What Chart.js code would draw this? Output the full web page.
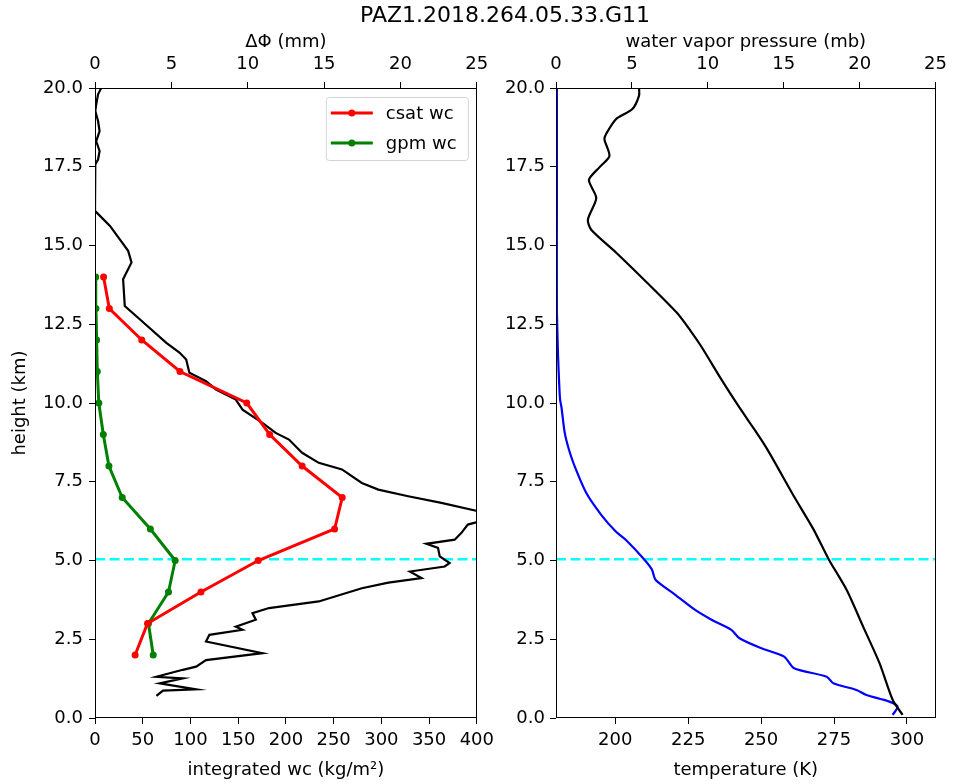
<!DOCTYPE html>
<html>
<head>
<meta charset="utf-8">
<script src="https://cdn.jsdelivr.net/npm/chart.js@4.4.0/dist/chart.umd.min.js"></script>
<style>
  html, body { margin: 0; padding: 0; background: #fff; }
  #wrap { position: relative; width: 954px; height: 784px; overflow: hidden; }
  #title { position: absolute; left: 505px; top: 2px; transform: translateX(-50%); white-space: nowrap;
           font: 22px "DejaVu Sans", sans-serif; color: #000; }
  canvas { position: absolute; top: 0; }
</style>
</head>
<body>
<div id="wrap">
  <canvas id="left" width="500" height="784" style="left:0"></canvas>
  <canvas id="right" width="454" height="784" style="left:500px"></canvas>
  <div id="title">PAZ1.2018.264.05.33.G11</div>
</div>
<script>
// ---- data ----
const wcHeight = [2, 3, 4, 5, 6, 7, 8, 9, 10, 11, 12, 13, 14];
const csatWc   = [42, 55, 111, 171, 251, 259, 217, 183, 159, 89, 49, 15, 9];
const gpmWc    = [61, 56, 77, 84, 58, 28.5, 14.6, 8.7, 4, 2.4, 1.7, 1, 0.8];

// delta phi profile (top axis, mm)
const dphiHeight = [20.0, 19.8, 19.48, 19.27, 18.95, 18.63, 18.31, 18.0, 17.73, 17.57, 17.0, 16.1,
  15.62, 14.83, 14.46, 13.93, 13.08, 12.66, 11.91, 11.6, 11.38, 10.96, 10.69, 10.43, 10.11,
  9.79, 9.37, 9.05, 8.84, 8.42, 8.1, 7.89, 7.46, 7.25, 7.04, 6.83, 6.58, 6.4, 6.21, 6.14,
  5.87, 5.66, 5.53, 5.4, 5.13, 4.92, 4.81, 4.65, 4.44, 4.3, 4.12, 3.7, 3.49, 3.33, 3.12,
  2.9, 2.8, 2.64, 2.43, 2.06, 1.84, 1.63, 1.53, 1.31, 1.26, 1.1, 0.91, 0.87, 0.7];
const dphiMm = [0.41, 0.2, 0.08, 0.02, 0.2, 0.3, 0.08, 0.3, 0.2, 0.02, 0, 0,
  0.98, 2.17, 2.39, 1.84, 1.95, 2.93, 4.67, 5.53, 5.97, 6.18, 7.27, 7.92, 9.22,
  9.66, 10.96, 11.83, 12.7, 13.56, 14.65, 16.17, 17.47, 18.55, 20.51, 22.68, 24.95, 27.0, 24.95, 24.41,
  23.98, 23.55, 21.7, 22.46, 22.57, 23.22, 22.9, 20.62, 21.38, 19.21, 17.47, 14.65, 11.39, 10.31, 10.53,
  9.22, 9.66, 7.49, 7.27, 10.96, 7.27, 6.62, 5.75, 4.02, 5.75, 4.23, 6.62, 4.45, 4.02];

// water vapour pressure profile (top axis, mb)
const wvHeight   = [20.0, 19.76, 19.33, 19.01, 18.54, 18.37, 17.84, 17.48, 17.08, 16.51, 15.82, 15.5,
  14.78, 13.82, 12.87, 12.3, 11.81, 10.75, 9.85, 9.16, 8.52, 7.04, 5.98, 5.05, 4.07, 2.9, 1.74, 0.57, 0.1];
const wvPressure = [5.47, 5.47, 5.03, 3.95, 3.3, 3.19, 3.52, 2.86, 2.17, 2.65, 2.1, 2.32,
  3.95, 6.0, 7.95, 8.85, 9.55, 10.89, 12.09, 13.07, 13.93, 15.67, 16.97, 17.95, 19.14, 20.23, 21.31, 22.18, 22.83];

// temperature profile (bottom axis, K)
const tempHeight = [20, 16, 13, 12.55, 11.5, 10.6, 10.11, 9.85, 9.05, 8.5, 7.99, 7.14, 6.45, 5.92, 5.66,
  5.05, 4.71, 4.39, 3.91, 3.43, 3.12, 2.8, 2.53, 2.22, 1.95, 1.58, 1.31, 1.1, 0.89, 0.73, 0.52, 0.36, 0.1];
const tempK = [180, 180, 180, 180.1, 180.4, 180.8, 181.1, 181.6, 182.7, 184.2, 186.1, 190.1, 195.2, 200.2, 203.6,
  209.8, 212.6, 213.8, 220.6, 227.4, 233.0, 239.8, 242.6, 249.9, 257.9, 261.3, 272.5, 274.8, 282.7, 286.1, 294.0, 296.8, 295.1];

const freezingLevel = 5.04;

const heightTicks = [0, 2.5, 5, 7.5, 10, 12.5, 15, 17.5, 20];
const tempTicks = [200, 225, 250, 275, 300];

// ---- helpers ----
const FONT = { family: '"DejaVu Sans", sans-serif', size: 18 };
const pts = (xs, ys) => xs.map((v, i) => ({ x: v, y: ys[i] }));

const frame = {
  id: 'frame',
  afterDatasetsDraw(chart) {
    const { ctx, chartArea: a } = chart;
    ctx.save();
    ctx.strokeStyle = '#000';
    ctx.lineWidth = 1;
    const l = Math.round(a.left) + 0.5, t = Math.round(a.top) + 0.5;
    const r = Math.round(a.right) - 0.5, b = Math.round(a.bottom) - 0.5;
    ctx.strokeRect(l, t, r - l, b - t);
    ctx.restore();
  }
};

const insetLegend = {
  id: 'insetLegend',
  afterDatasetsDraw(chart) {
    const { ctx, chartArea: a } = chart;
    const items = chart.data.datasets.filter(d => d.inLegend);
    if (!items.length) return;
    const x0 = a.right - 151, y0 = a.top + 9;
    ctx.save();
    ctx.fillStyle = 'rgba(255,255,255,0.85)';
    ctx.strokeStyle = '#d4d4d4';
    ctx.lineWidth = 1;
    ctx.beginPath();
    ctx.roundRect(x0 + 0.5, y0 + 0.5, 142, 63, 3);
    ctx.fill();
    ctx.stroke();
    items.forEach((d, i) => {
      const yy = y0 + 16 + i * 30;
      ctx.strokeStyle = d.borderColor;
      ctx.lineWidth = d.borderWidth;
      ctx.beginPath();
      ctx.moveTo(x0 + 5, yy);
      ctx.lineTo(x0 + 47, yy);
      ctx.stroke();
      ctx.fillStyle = d.borderColor;
      ctx.beginPath();
      ctx.arc(x0 + 26, yy, 3.5, 0, Math.PI * 2);
      ctx.fill();
      ctx.fillStyle = '#000';
      ctx.font = '18px "DejaVu Sans", sans-serif';
      ctx.textBaseline = 'middle';
      ctx.fillText(d.label, x0 + 60, yy + 1);
    });
    ctx.restore();
  }
};

function axis(opts) {
  const base = {
    type: 'linear',
    border: { display: false },
    grid: { drawOnChartArea: false, drawTicks: true, tickLength: 6, tickColor: '#000', color: '#000' },
    ticks: { color: '#000', font: FONT, padding: opts.tickPadding, maxRotation: 0 },
    title: { display: !!opts.titleText, text: opts.titleText, color: '#000', font: FONT, padding: opts.titlePadding }
  };
  return Object.assign(base, opts.extra);
}

function heightAxis(width, showTitle, pad) {
  return axis({
    titleText: showTitle ? 'height (km)' : '',
    titlePadding: { top: 10 },
    extra: {
      position: 'left', min: 0, max: 20,
      afterBuildTicks: s => { s.ticks = heightTicks.map(v => ({ value: v })); },
      ticks: { color: '#000', font: FONT, padding: pad, callback: v => v.toFixed(1) },
      afterFit: s => { s.width = width; }
    }
  });
}

const common = {
  responsive: false,
  animation: false,
  devicePixelRatio: 1,
  plugins: { legend: { display: false }, tooltip: { enabled: false } }
};

// ---- left panel ----
new Chart(document.getElementById('left'), {
  type: 'scatter',
  data: {
    datasets: [
      { label: 'csat wc', inLegend: true, data: pts(csatWc, wcHeight), xAxisID: 'x', showLine: true,
        borderColor: '#ff0000', backgroundColor: '#ff0000', borderWidth: 3, pointRadius: 3.5, pointBorderWidth: 0, order: 0 },
      { label: 'gpm wc', inLegend: true, data: pts(gpmWc, wcHeight), xAxisID: 'x', showLine: true,
        borderColor: '#008000', backgroundColor: '#008000', borderWidth: 3, pointRadius: 3.5, pointBorderWidth: 0, order: 1 },
      { label: 'ΔΦ', data: pts(dphiMm, dphiHeight), xAxisID: 'x2', showLine: true,
        borderColor: '#000', borderWidth: 2.2, pointRadius: 0, order: 2 },
      { label: 'freezing', data: [{ x: 0, y: freezingLevel }, { x: 400, y: freezingLevel }], xAxisID: 'x',
        showLine: true, borderColor: '#00ffff', borderWidth: 2.5, borderDash: [10, 4.5], pointRadius: 0, order: 3 }
    ]
  },
  options: Object.assign({}, common, {
    layout: { padding: { left: 0, right: 21, top: 0, bottom: 0 } },
    scales: {
      x: axis({ titleText: 'integrated wc (kg/m²)', titlePadding: { bottom: 3 }, tickPadding: 6,
        extra: { position: 'bottom', min: 0, max: 400, afterFit: s => { s.height = 66; } } }),
      x2: axis({ titleText: 'ΔΦ (mm)', titlePadding: { top: 32 }, tickPadding: 7,
        extra: { position: 'top', min: 0, max: 25, afterFit: s => { s.height = 88; } } }),
      y: heightAxis(95, true, 6)
    }
  }),
  plugins: [frame, insetLegend]
});

// ---- right panel ----
new Chart(document.getElementById('right'), {
  type: 'scatter',
  data: {
    datasets: [
      { label: 'water vapor pressure', data: pts(wvPressure, wvHeight), xAxisID: 'x2', showLine: true,
        borderColor: '#000', borderWidth: 2.2, pointRadius: 0, tension: 0.25, order: 0 },
      { label: 'temperature', data: pts(tempK, tempHeight), xAxisID: 'x', showLine: true,
        borderColor: '#0000ff', borderWidth: 2.2, pointRadius: 0, tension: 0.25, order: 1 },
      { label: 'freezing', data: [{ x: 0, y: freezingLevel }, { x: 25, y: freezingLevel }], xAxisID: 'x2',
        showLine: true, borderColor: '#00ffff', borderWidth: 2.5, borderDash: [10, 4.5], pointRadius: 0, order: 2 }
    ]
  },
  options: Object.assign({}, common, {
    layout: { padding: { left: 0, right: 14, top: 0, bottom: 0 } },
    scales: {
      x: axis({ titleText: 'temperature (K)', titlePadding: { bottom: 3 }, tickPadding: 6,
        extra: { position: 'bottom', min: 179.7, max: 309.8,
          afterBuildTicks: s => { s.ticks = tempTicks.map(v => ({ value: v })); },
          afterFit: s => { s.height = 66; } } }),
      x2: axis({ titleText: 'water vapor pressure (mb)', titlePadding: { top: 32 }, tickPadding: 7,
        extra: { position: 'top', min: 0, max: 25, afterFit: s => { s.height = 88; } } }),
      y: heightAxis(56, false, 5)
    }
  }),
  plugins: [frame]
});
</script>
</body>
</html>
